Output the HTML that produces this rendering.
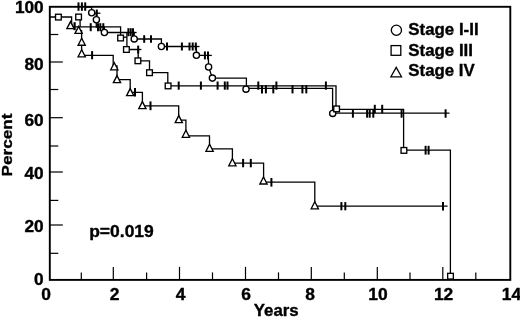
<!DOCTYPE html>
<html><head><meta charset="utf-8"><title>Survival by stage</title>
<style>html,body{margin:0;padding:0;background:#fff}body{width:520px;height:317px;overflow:hidden}</style>
</head><body>
<svg width="520" height="317" viewBox="0 0 520 317" style="display:block">
<rect width="520" height="317" fill="#fff"/>
<g stroke="#000" stroke-linecap="butt" stroke-linejoin="miter">
<rect x="49.8" y="6.8" width="460.5" height="273.09999999999997" fill="none" stroke="#000" stroke-width="1.9"/>
<line x1="81.3" y1="279.9" x2="81.3" y2="272.4" stroke-width="1.2"/>
<line x1="113.3" y1="279.9" x2="113.3" y2="266.9" stroke-width="1.2"/>
<line x1="146.6" y1="279.9" x2="146.6" y2="272.4" stroke-width="1.2"/>
<line x1="179.5" y1="279.9" x2="179.5" y2="266.9" stroke-width="1.2"/>
<line x1="212.5" y1="279.9" x2="212.5" y2="272.4" stroke-width="1.2"/>
<line x1="245.5" y1="279.9" x2="245.5" y2="266.9" stroke-width="1.2"/>
<line x1="278.5" y1="279.9" x2="278.5" y2="272.4" stroke-width="1.2"/>
<line x1="311.3" y1="279.9" x2="311.3" y2="266.9" stroke-width="1.2"/>
<line x1="344.3" y1="279.9" x2="344.3" y2="272.4" stroke-width="1.2"/>
<line x1="377.3" y1="279.9" x2="377.3" y2="266.9" stroke-width="1.2"/>
<line x1="410" y1="279.9" x2="410" y2="272.4" stroke-width="1.2"/>
<line x1="442.8" y1="279.9" x2="442.8" y2="266.9" stroke-width="1.2"/>
<line x1="475.8" y1="279.9" x2="475.8" y2="272.4" stroke-width="1.2"/>
<line x1="49.8" y1="34.5" x2="58.3" y2="34.5" stroke-width="1.2"/>
<line x1="49.8" y1="62" x2="62.8" y2="62" stroke-width="1.2"/>
<line x1="49.8" y1="89.5" x2="58.3" y2="89.5" stroke-width="1.2"/>
<line x1="49.8" y1="117.7" x2="62.8" y2="117.7" stroke-width="1.2"/>
<line x1="49.8" y1="146" x2="58.3" y2="146" stroke-width="1.2"/>
<line x1="49.8" y1="172" x2="62.8" y2="172" stroke-width="1.2"/>
<line x1="49.8" y1="200.4" x2="58.3" y2="200.4" stroke-width="1.2"/>
<line x1="49.8" y1="225" x2="62.8" y2="225" stroke-width="1.2"/>
<line x1="49.8" y1="253.3" x2="58.3" y2="253.3" stroke-width="1.2"/>
<path d="M85 7 L91.6 7 L91.6 13.2 L96.3 13.2 L96.3 27.2 L104.4 27.2 L104.4 32.5 L134.2 32.5 L134.2 39 L161.4 39 L161.4 46.5 L196.4 46.5 L196.4 55.4 L208.3 55.4 L208.6 67 L212.4 78.2 L246.4 78.2 L246.4 88.4 L332.6 88.4 L332.6 113.2 L449.5 113.2" fill="none" stroke-width="1.3"/>
<line x1="96.3" y1="13.2" x2="100.4" y2="13.2" stroke-width="1.3"/>
<line x1="196.4" y1="46.5" x2="199.5" y2="46.5" stroke-width="1.3"/>
<line x1="134.2" y1="32.5" x2="136.6" y2="32.5" stroke-width="1.3"/>
<line x1="208.3" y1="55.4" x2="211.8" y2="55.4" stroke-width="1.3"/>
<path d="M49.8 17 L71.6 17 L71.6 26.9 L120.6 26.9 L120.6 38" fill="none" stroke-width="1.3"/>
<path d="M126.9 32.5 L126.9 49.5 L138.2 49.5 L138.2 60.8 L149.5 60.8 L149.5 72.7 L167.8 72.7 L167.8 85.9 L336 85.9 L336 109.4 L403.6 109.4 L403.6 150.2 L450.4 150.2 L450.4 279" fill="none" stroke-width="1.3"/>
<line x1="138.2" y1="49.5" x2="141.4" y2="49.5" stroke-width="1.3"/>
<line x1="123" y1="37.2" x2="126.9" y2="37.2" stroke-width="1.3"/>
<path d="M80.1 19 L80.1 26.9" fill="none" stroke-width="1.3"/>
<path d="M81.6 30 L81.6 55.3 L113.2 55.3 L113.2 66 L117 66 L117 79.6 L130.2 79.6 L130.2 92.3 L142.4 92.3 L142.4 105.9 L178.7 105.9 L178.7 120.1 L185.9 120.1 L185.9 135.8 L209.5 135.8 L209.5 148.8 L232.4 148.8 L232.4 163.1 L263.6 163.1 L263.6 182.2 L314.8 182.2 L314.8 206.2 L447.6 206.2" fill="none" stroke-width="1.3"/>
<line x1="78.5" y1="2.3999999999999995" x2="78.5" y2="10.8" stroke-width="2.0"/>
<line x1="81.9" y1="2.3999999999999995" x2="81.9" y2="10.8" stroke-width="2.0"/>
<line x1="85.2" y1="2.3999999999999995" x2="85.2" y2="10.8" stroke-width="2.0"/>
<line x1="96.8" y1="9.55" x2="96.8" y2="16.05" stroke-width="2.0"/>
<line x1="128.4" y1="28.200000000000003" x2="128.4" y2="36.2" stroke-width="2.0"/>
<line x1="130.7" y1="28.200000000000003" x2="130.7" y2="36.2" stroke-width="2.0"/>
<line x1="133.0" y1="28.200000000000003" x2="133.0" y2="36.2" stroke-width="2.0"/>
<line x1="144.2" y1="35.2" x2="144.2" y2="42.8" stroke-width="2.0"/>
<line x1="151.0" y1="35.2" x2="151.0" y2="42.8" stroke-width="2.0"/>
<line x1="167.0" y1="42.5" x2="167.0" y2="50.5" stroke-width="2.0"/>
<line x1="181.9" y1="42.5" x2="181.9" y2="50.5" stroke-width="2.0"/>
<line x1="189.5" y1="42.5" x2="189.5" y2="50.5" stroke-width="2.0"/>
<line x1="192.7" y1="42.5" x2="192.7" y2="50.5" stroke-width="2.0"/>
<line x1="195.8" y1="42.5" x2="195.8" y2="50.5" stroke-width="2.0"/>
<line x1="204.9" y1="51.4" x2="204.9" y2="59.4" stroke-width="2.0"/>
<line x1="208.0" y1="51.4" x2="208.0" y2="59.4" stroke-width="2.0"/>
<line x1="262" y1="85.2" x2="262" y2="93.39999999999999" stroke-width="2.0"/>
<line x1="265.9" y1="85.2" x2="265.9" y2="93.39999999999999" stroke-width="2.0"/>
<line x1="273.3" y1="85.2" x2="273.3" y2="93.39999999999999" stroke-width="2.0"/>
<line x1="292.5" y1="85.2" x2="292.5" y2="93.39999999999999" stroke-width="2.0"/>
<line x1="302.4" y1="85.2" x2="302.4" y2="93.39999999999999" stroke-width="2.0"/>
<line x1="306.3" y1="85.2" x2="306.3" y2="93.39999999999999" stroke-width="2.0"/>
<line x1="352.9" y1="109.3" x2="352.9" y2="117.7" stroke-width="2.0"/>
<line x1="367.1" y1="109.3" x2="367.1" y2="117.7" stroke-width="2.0"/>
<line x1="369.7" y1="109.3" x2="369.7" y2="117.7" stroke-width="2.0"/>
<line x1="373.3" y1="109.3" x2="373.3" y2="117.7" stroke-width="2.0"/>
<line x1="401.6" y1="109.3" x2="401.6" y2="117.7" stroke-width="2.0"/>
<line x1="445.6" y1="109.3" x2="445.6" y2="117.7" stroke-width="2.0"/>
<line x1="90.7" y1="23.2" x2="90.7" y2="31.2" stroke-width="2.0"/>
<line x1="98.0" y1="23.2" x2="98.0" y2="31.2" stroke-width="2.0"/>
<line x1="100.3" y1="23.2" x2="100.3" y2="31.2" stroke-width="2.0"/>
<line x1="103.3" y1="23.2" x2="103.3" y2="31.2" stroke-width="2.0"/>
<line x1="138.2" y1="45.6" x2="138.2" y2="53.6" stroke-width="2.0"/>
<line x1="178.7" y1="81.5" x2="178.7" y2="89.69999999999999" stroke-width="2.0"/>
<line x1="200.9" y1="81.5" x2="200.9" y2="89.69999999999999" stroke-width="2.0"/>
<line x1="217.6" y1="81.5" x2="217.6" y2="89.69999999999999" stroke-width="2.0"/>
<line x1="224.8" y1="81.5" x2="224.8" y2="89.69999999999999" stroke-width="2.0"/>
<line x1="227.5" y1="81.5" x2="227.5" y2="89.69999999999999" stroke-width="2.0"/>
<line x1="258.3" y1="81.5" x2="258.3" y2="89.69999999999999" stroke-width="2.0"/>
<line x1="276.4" y1="81.5" x2="276.4" y2="89.69999999999999" stroke-width="2.0"/>
<line x1="325.9" y1="81.5" x2="325.9" y2="89.69999999999999" stroke-width="2.0"/>
<line x1="374.8" y1="104.8" x2="374.8" y2="113.2" stroke-width="2.0"/>
<line x1="382.2" y1="104.8" x2="382.2" y2="113.2" stroke-width="2.0"/>
<line x1="425.6" y1="145.79999999999998" x2="425.6" y2="154.6" stroke-width="2.0"/>
<line x1="428.6" y1="145.79999999999998" x2="428.6" y2="154.6" stroke-width="2.0"/>
<line x1="74.6" y1="22.2" x2="74.6" y2="30.2" stroke-width="2.2"/>
<line x1="92.1" y1="51.1" x2="92.1" y2="59.300000000000004" stroke-width="2.0"/>
<line x1="135" y1="88.1" x2="135" y2="96.5" stroke-width="2.0"/>
<line x1="150.5" y1="101.39999999999999" x2="150.5" y2="110.2" stroke-width="2.0"/>
<line x1="243.1" y1="158.9" x2="243.1" y2="167.29999999999998" stroke-width="2.0"/>
<line x1="250.8" y1="158.9" x2="250.8" y2="167.29999999999998" stroke-width="2.0"/>
<line x1="271.4" y1="178.0" x2="271.4" y2="186.60000000000002" stroke-width="2.0"/>
<line x1="341.4" y1="202.1" x2="341.4" y2="210.29999999999998" stroke-width="2.0"/>
<line x1="345.3" y1="202.1" x2="345.3" y2="210.29999999999998" stroke-width="2.0"/>
<line x1="443" y1="201.89999999999998" x2="443" y2="210.5" stroke-width="2.0"/>
<circle cx="91.7" cy="12.7" r="3.1" fill="#fff" stroke-width="1.35"/>
<circle cx="96.4" cy="19.8" r="3.1" fill="#fff" stroke-width="1.35"/>
<circle cx="104.4" cy="32.5" r="3.1" fill="#fff" stroke-width="1.35"/>
<circle cx="134.2" cy="38.9" r="3.1" fill="#fff" stroke-width="1.35"/>
<circle cx="161.4" cy="46.5" r="3.1" fill="#fff" stroke-width="1.35"/>
<circle cx="196.4" cy="55.3" r="3.1" fill="#fff" stroke-width="1.35"/>
<circle cx="208.6" cy="67" r="3.1" fill="#fff" stroke-width="1.35"/>
<circle cx="212.4" cy="78.1" r="3.1" fill="#fff" stroke-width="1.35"/>
<circle cx="246" cy="89.2" r="3.1" fill="#fff" stroke-width="1.35"/>
<circle cx="332.7" cy="113.4" r="3.1" fill="#fff" stroke-width="1.35"/>
<rect x="55.55" y="14.250000000000002" width="5.7" height="5.7" fill="#fff" stroke-width="1.35"/>
<rect x="75.75" y="14.15" width="5.7" height="5.7" fill="#fff" stroke-width="1.35"/>
<rect x="117.75" y="35.15" width="5.7" height="5.7" fill="#fff" stroke-width="1.35"/>
<rect x="123.55000000000001" y="46.65" width="5.7" height="5.7" fill="#fff" stroke-width="1.35"/>
<rect x="135.05" y="57.949999999999996" width="5.7" height="5.7" fill="#fff" stroke-width="1.35"/>
<rect x="146.65" y="69.85000000000001" width="5.7" height="5.7" fill="#fff" stroke-width="1.35"/>
<rect x="165.25" y="83.05000000000001" width="5.7" height="5.7" fill="#fff" stroke-width="1.35"/>
<rect x="333.75" y="106.05000000000001" width="5.7" height="5.7" fill="#fff" stroke-width="1.35"/>
<rect x="401.04999999999995" y="147.55" width="5.7" height="5.7" fill="#fff" stroke-width="1.35"/>
<rect x="447.65" y="273.34999999999997" width="5.7" height="5.7" fill="#fff" stroke-width="1.35"/>
<path d="M70.5 21.6 L74.1 28.6 L66.9 28.6 Z" fill="#fff" stroke-width="1.35"/>
<path d="M78.6 26.4 L82.19999999999999 33.4 L75.0 33.4 Z" fill="#fff" stroke-width="1.35"/>
<path d="M81.7 38.2 L85.3 45.2 L78.10000000000001 45.2 Z" fill="#fff" stroke-width="1.35"/>
<path d="M81.7 49.8 L85.3 56.8 L78.10000000000001 56.8 Z" fill="#fff" stroke-width="1.35"/>
<path d="M114.3 62.8 L117.89999999999999 69.8 L110.7 69.8 Z" fill="#fff" stroke-width="1.35"/>
<path d="M117 75.6 L120.6 82.6 L113.4 82.6 Z" fill="#fff" stroke-width="1.35"/>
<path d="M130.2 88.6 L133.79999999999998 95.6 L126.6 95.6 Z" fill="#fff" stroke-width="1.35"/>
<path d="M142.4 101.6 L146.0 108.6 L138.8 108.6 Z" fill="#fff" stroke-width="1.35"/>
<path d="M178.8 115.6 L182.4 122.6 L175.20000000000002 122.6 Z" fill="#fff" stroke-width="1.35"/>
<path d="M185.9 130.3 L189.5 137.3 L182.3 137.3 Z" fill="#fff" stroke-width="1.35"/>
<path d="M209.6 144.3 L213.2 151.3 L206.0 151.3 Z" fill="#fff" stroke-width="1.35"/>
<path d="M232.4 158.8 L236.0 165.8 L228.8 165.8 Z" fill="#fff" stroke-width="1.35"/>
<path d="M263.5 177 L267.1 184.0 L259.9 184.0 Z" fill="#fff" stroke-width="1.35"/>
<path d="M314.8 201.8 L318.40000000000003 208.8 L311.2 208.8 Z" fill="#fff" stroke-width="1.35"/>
<circle cx="396.4" cy="30.2" r="5.1" fill="#fff" stroke-width="1.3"/>
<rect x="391.1" y="45.6" width="9.7" height="9.7" fill="#fff" stroke-width="1.3"/>
<path d="M396.2 67.4 L401.5 76.8 L390.9 76.8 Z" fill="#fff" stroke-width="1.3"/>
</g>
<g font-family="'Liberation Sans', Arial, Helvetica, sans-serif" font-weight="bold" fill="#000" stroke="#000" stroke-width="0.35" stroke-linejoin="round">
<text x="408.3" y="35.2" text-anchor="start" font-size="16.5" textLength="70.3" lengthAdjust="spacingAndGlyphs">Stage I-II</text>
<text x="408.3" y="55.5" text-anchor="start" font-size="16.5" textLength="64.7" lengthAdjust="spacingAndGlyphs">Stage III</text>
<text x="408.3" y="76.1" text-anchor="start" font-size="16.5" textLength="66.5" lengthAdjust="spacingAndGlyphs">Stage IV</text>
<text x="89.2" y="237.4" text-anchor="start" font-size="16.3" textLength="64.6" lengthAdjust="spacingAndGlyphs">p=0.019</text>
<text transform="translate(43.7,12.5) scale(1.1,1)" text-anchor="end" font-size="15.7">100</text>
<text transform="translate(43.7,70.0) scale(1.1,1)" text-anchor="end" font-size="15.7">80</text>
<text transform="translate(43.7,125.7) scale(1.1,1)" text-anchor="end" font-size="15.7">60</text>
<text transform="translate(43.7,179.4) scale(1.1,1)" text-anchor="end" font-size="15.7">40</text>
<text transform="translate(43.7,231.6) scale(1.1,1)" text-anchor="end" font-size="15.7">20</text>
<text transform="translate(43.7,285.0) scale(1.1,1)" text-anchor="end" font-size="15.7">0</text>
<text transform="translate(46.2,300.3) scale(1.11,1)" text-anchor="middle" font-size="15.7">0</text>
<text transform="translate(114.7,300.3) scale(1.11,1)" text-anchor="middle" font-size="15.7">2</text>
<text transform="translate(180.6,300.3) scale(1.11,1)" text-anchor="middle" font-size="15.7">4</text>
<text transform="translate(246,300.3) scale(1.11,1)" text-anchor="middle" font-size="15.7">6</text>
<text transform="translate(310.1,300.3) scale(1.11,1)" text-anchor="middle" font-size="15.7">8</text>
<text transform="translate(378,300.3) scale(1.11,1)" text-anchor="middle" font-size="15.7">10</text>
<text transform="translate(443.6,300.3) scale(1.11,1)" text-anchor="middle" font-size="15.7">12</text>
<text transform="translate(511.5,300.3) scale(1.11,1)" text-anchor="middle" font-size="15.7">14</text>
<text x="253.8" y="315.8" text-anchor="start" font-size="16" textLength="44.9" lengthAdjust="spacingAndGlyphs">Years</text>
<text transform="translate(12.2,176.4) rotate(-90)" text-anchor="start" font-size="15.2" textLength="62.8" lengthAdjust="spacingAndGlyphs">Percent</text>
</g>
</svg>
</body></html>
